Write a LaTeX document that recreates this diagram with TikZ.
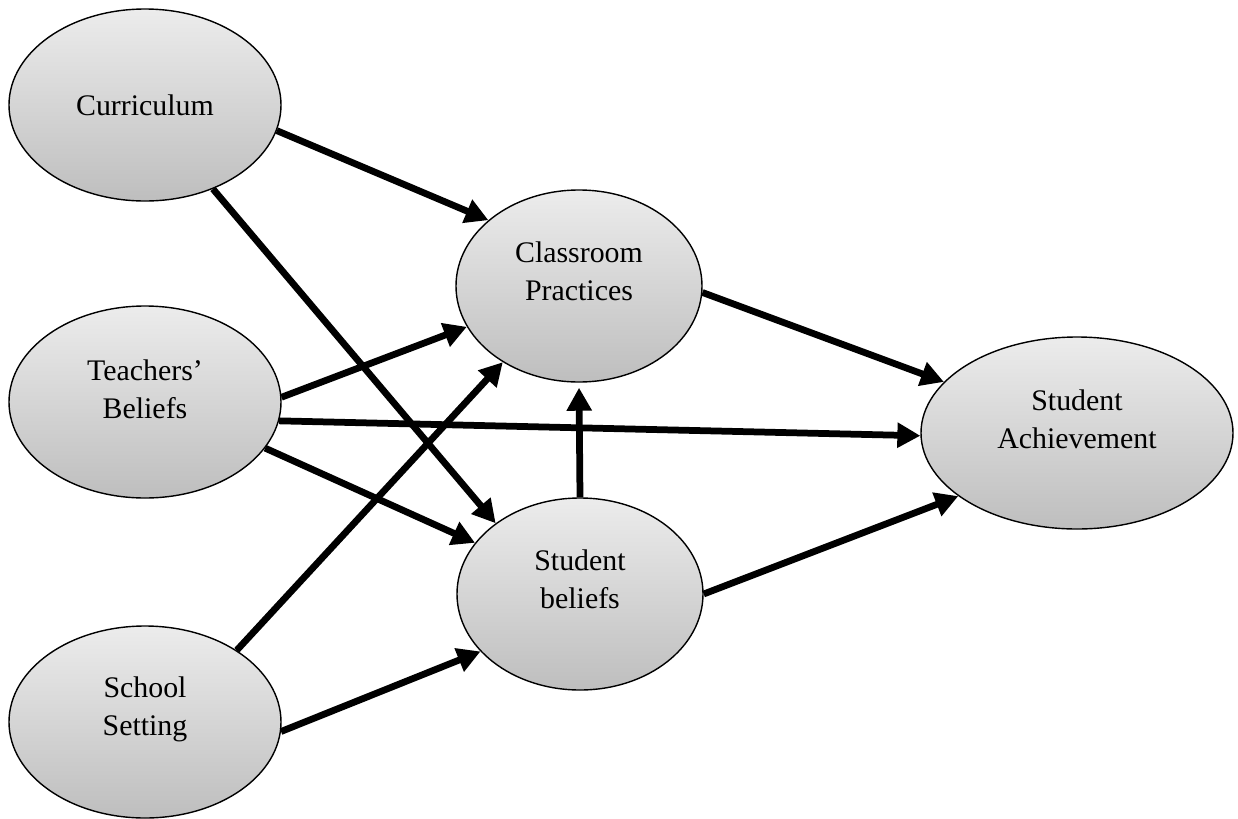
\documentclass[tikz,border=0pt]{standalone}
\usepackage{fontspec}
\setmainfont{Liberation Serif}
\usetikzlibrary{shapes.geometric}
\usetikzlibrary{arrows.meta}
\definecolor{blobtop}{RGB}{236,236,236}
\definecolor{blobbottom}{RGB}{190,190,190}

\begin{document}
\begin{tikzpicture}[
  blob/.style={ellipse, draw, line width=0.8pt, top color=blobtop, bottom color=blobbottom,
    minimum height=3.84cm, inner sep=0pt},
  txt/.style={font=\fontsize{17}{21.5}\selectfont, align=center},
  flow/.style={line width=0.135cm, -{Triangle[length=0.46cm,width=0.48cm]}}
]
  \useasboundingbox (0,0) rectangle (24.76,-16.36);
  % factors on the left
  \node [blob, minimum width=5.44cm, label={[txt, name=cur-t]center:Curriculum}] (cur) at (2.9,-2.1) {};
  \node [blob, minimum width=5.44cm, label={[txt, name=tea-t, yshift=0.26cm]center:Teachers'\\Beliefs}] (tea) at (2.9,-8.04) {};
  \node [blob, minimum width=5.44cm, label={[txt, name=sch-t, yshift=0.26cm]center:School\\Setting}] (sch) at (2.9,-14.44) {};
  % middle
  \node [blob, minimum width=4.92cm, label={[txt, name=cp-t, yshift=0.3cm]center:Classroom\\Practices}] (cp) at (11.58,-5.72) {};
  \node [blob, minimum width=4.92cm, label={[txt, name=sb-t, yshift=0.3cm]center:Student\\beliefs}] (sb) at (11.6,-11.88) {};
  % outcome
  \node [blob, minimum width=6.24cm, label={[txt, name=sa-t, yshift=0.28cm]center:Student\\Achievement}] (sa) at (21.54,-8.66) {};

  \draw [flow] (cur.-11.5) -- (cp.144.9);
  \draw [flow] (cur.-51.2) -- (sb.140.6);
  \draw [flow] (tea.2) -- (cp.200.7);
  \draw [flow] (tea.-8.7) -- (sa.181.8);
  \draw [flow] (tea.-21.5) -- (sb.154.9);
  \draw [flow] (sch.38) -- (cp.225);
  \draw [flow] (sch.-4.1) -- (sb.210.1);
  \draw [flow, shorten >=0.1cm] (sb.north) -- (cp.south);
  \draw [flow] (cp.-3.3) -- (sa.159.2);
  \draw [flow] (sb.0) -- (sa.208);
\end{tikzpicture}
\end{document}
